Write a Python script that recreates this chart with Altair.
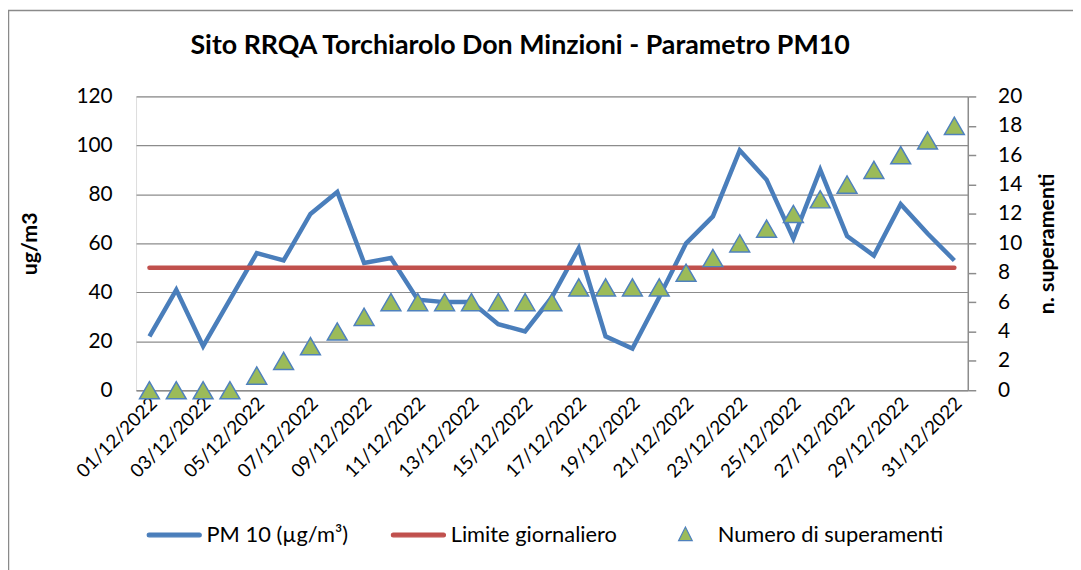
import altair as alt
import pandas as pd

dates = ["01/12/2022", "02/12/2022", "03/12/2022", "04/12/2022", "05/12/2022",
         "06/12/2022", "07/12/2022", "08/12/2022", "09/12/2022", "10/12/2022",
         "11/12/2022", "12/12/2022", "13/12/2022", "14/12/2022", "15/12/2022",
         "16/12/2022", "17/12/2022", "18/12/2022", "19/12/2022", "20/12/2022",
         "21/12/2022", "22/12/2022", "23/12/2022", "24/12/2022", "25/12/2022",
         "26/12/2022", "27/12/2022", "28/12/2022", "29/12/2022", "30/12/2022",
         "31/12/2022"]
pm10 = [22, 41, 18, 37, 56, 53, 72, 81, 52, 54, 37, 36, 36, 27, 24, 38,
        58, 22, 17, 38, 60, 71, 98, 86, 62, 90, 63, 55, 76, 64, 53]
limite = [50, 50, 50, 50, 50, 50, 50, 50, 50, 50, 50, 50, 50, 50, 50, 50,
          50, 50, 50, 50, 50, 50, 50, 50, 50, 50, 50, 50, 50, 50, 50]
superamenti = [0, 0, 0, 0, 1, 2, 3, 4, 5, 6, 6, 6, 6, 6, 6, 6,
               7, 7, 7, 7, 8, 9, 10, 11, 12, 13, 14, 15, 16, 17, 18]
series = ["PM 10 (µg/m³)", "Limite giornaliero", "Numero di superamenti"]
series_stroke = ["#4A7EBB", "#C0504D", "#4F81BD"]
series_fill = ["#4A7EBB", "#C0504D", "#9BBB59"]
LINE_SYM = "M-0.92,-0.07H0.92A0.07,0.07 0 0 1 0.92,0.07H-0.92A0.07,0.07 0 0 1 -0.92,-0.07Z"
series_shape = [LINE_SYM, LINE_SYM, "M0,-0.29L0.25,0.21L-0.25,0.21Z"]
left_ticks = [0, 20, 40, 60, 80, 100, 120]
right_ticks = [0, 2, 4, 6, 8, 10, 12, 14, 16, 18, 20]
x_labels = dates[::2]

df_pm = pd.DataFrame({"date": dates, "value": pm10})
df_lim = pd.DataFrame({"date": dates, "value": limite})
df_cnt = pd.DataFrame({"date": dates, "count": superamenti})
df_leg = pd.DataFrame({"series": series})

FONT = "Lato"
GRID = "#8c8c8c"

x = alt.X(
    "date:N", sort=dates, scale=alt.Scale(domain=dates),
    axis=alt.Axis(
        title=None, values=x_labels, labelAngle=315, labelAlign="right",
        labelBaseline="middle", labelPadding=10, labelOffset=4, ticks=False,
        domainColor=GRID, domainWidth=1.5, grid=False, labelFont=FONT,
        labelFontSize=19, labelColor="#000000", labelOverlap=False,
    ),
)

y_left = alt.Y(
    "value:Q", scale=alt.Scale(domain=[0, 120], nice=False),
    axis=alt.Axis(
        title="ug/m3", values=left_ticks, grid=True, gridColor=GRID, gridWidth=1.2,
        domain=False, ticks=False, labelPadding=24, labelFont=FONT, labelFontSize=21,
        labelColor="#000000", titleFont=FONT, titleFontSize=21.5, titleFontWeight="bold",
        titleColor="#000000", titleAngle=270, titleX=-106, titleY=148,
        titleAlign="center", titleBaseline="middle",
    ),
)

border = alt.Chart(pd.DataFrame({"k": [0]})).mark_rect(
    fillOpacity=0, stroke="#8a8a8a", strokeWidth=1.5, clip=False
).encode(x=alt.value(-128.5), x2=alt.value(960), y=alt.value(-86.5), y2=alt.value(500))

line_pm = alt.Chart(df_pm).mark_line(
    strokeWidth=4.5, strokeJoin="miter", color="#4A7EBB"
).encode(x=x, y=y_left)

line_lim = alt.Chart(df_lim).mark_line(
    strokeWidth=4.5, strokeCap="round", color="#C0504D"
).encode(x=x, y=alt.Y("value:Q", scale=alt.Scale(domain=[0, 120], nice=False)))

legend_layer = alt.Chart(df_leg).mark_point(size=3025, opacity=1, strokeWidth=1.2).encode(
    x=alt.value(-5000), y=alt.value(150),
    stroke=alt.Stroke("series:N", scale=alt.Scale(domain=series, range=series_stroke),
                      legend=alt.Legend(title=None)),
    fill=alt.Fill("series:N", scale=alt.Scale(domain=series, range=series_fill),
                  legend=alt.Legend(title=None)),
    shape=alt.Shape("series:N", scale=alt.Scale(domain=series, range=series_shape),
                    legend=alt.Legend(title=None)),
)

points = alt.Chart(df_cnt).mark_point(
    shape="triangle-up", filled=True, size=400, fill="#9BBB59",
    stroke="#4F81BD", strokeWidth=1.5, opacity=1
).encode(
    x=x,
    y=alt.Y(
        "count:Q", scale=alt.Scale(domain=[0, 20], nice=False),
        axis=alt.Axis(
            orient="right", title="n. superamenti", values=right_ticks, grid=False,
            domainColor=GRID, domainWidth=1.5, tickColor=GRID, tickWidth=1.5, tickSize=8,
            labelPadding=22, labelFont=FONT, labelFontSize=21, labelColor="#000000",
            titleFont=FONT, titleFontSize=21.5, titleFontWeight="bold", titleColor="#000000",
            titleAngle=270, titleX=80, titleY=148, titleAlign="center", titleBaseline="middle",
        ),
    ),
)

left = alt.layer(border, line_pm, line_lim, legend_layer)
chart = alt.layer(left, points).resolve_scale(y="independent").properties(
    width=838, height=296,
    autosize=alt.AutoSizeParams(type="none"),
    padding={"left": 129, "top": 87, "right": 106, "bottom": 179},
    title=alt.TitleParams(
        "Sito RRQA Torchiarolo Don Minzioni - Parametro PM10",
        font=FONT, fontSize=27, fontWeight="bold", color="#000000",
        anchor="middle", frame="group", dx=-32, offset=-71, baseline="alphabetic",
    ),
).configure_view(strokeWidth=0).configure(background="white").configure_legend(
    orient="none", legendX=10, legendY=413, direction="horizontal",
    symbolSize=3025, symbolStrokeWidth=1.2, labelFont=FONT, labelFontSize=22,
    labelColor="#000000", labelOffset=4, columnPadding=40, labelLimit=400,
)

chart.save("out.html", embed_options={"renderer": "svg", "actions": False})
